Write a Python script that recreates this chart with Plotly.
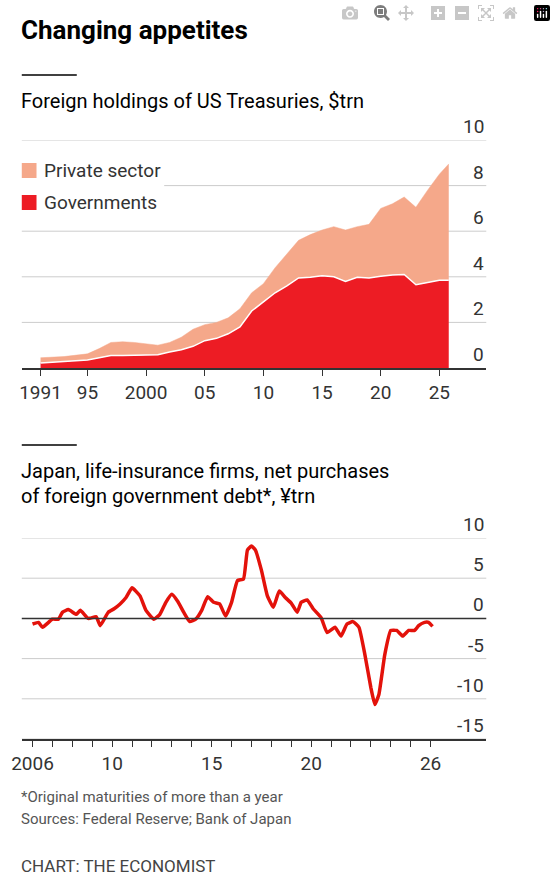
import plotly.graph_objects as go

years_top = [1991,1993,1995,1996,1997,1998,1999,2000,2001,2002,2003,2004,2005,2006,2007,2008,2009,2010,2011,2012,2013,2014,2015,2016,2017,2018,2019,2020,2021,2022,2023,2024,2025,2025.8]
total = [0.45,0.5,0.62,0.85,1.12,1.15,1.12,1.05,1.0,1.12,1.35,1.7,1.9,2.0,2.2,2.6,3.3,3.7,4.4,5.0,5.6,5.85,6.05,6.2,6.05,6.2,6.3,7.0,7.2,7.5,7.05,7.8,8.5,8.95]
govts = [0.22,0.28,0.35,0.45,0.55,0.55,0.55,0.58,0.58,0.7,0.8,0.95,1.2,1.3,1.5,1.8,2.5,2.9,3.3,3.6,3.95,3.98,4.05,4.0,3.8,3.98,3.95,4.02,4.08,4.1,3.65,3.75,3.85,3.85]

t_jp = [2006.0,2006.3,2006.5,2007.0,2007.3,2007.5,2007.8,2008.2,2008.4,2008.8,2009.2,2009.4,2009.8,2010.1,2010.4,2010.7,2011.0,2011.4,2011.7,2012.1,2012.4,2012.7,2013.0,2013.3,2013.6,2013.9,2014.2,2014.5,2014.8,2015.1,2015.4,2015.7,2016.0,2016.3,2016.6,2016.8,2017.0,2017.2,2017.5,2017.8,2018.1,2018.4,2018.7,2019.0,2019.3,2019.5,2019.8,2020.1,2020.5,2020.8,2021.2,2021.5,2021.8,2022.1,2022.4,2022.7,2023.0,2023.2,2023.4,2023.7,2024.0,2024.3,2024.6,2024.9,2025.2,2025.4,2025.7,2025.9,2026.1]
jp = [-0.7,-0.5,-1.1,-0.1,-0.1,0.75,1.1,0.5,1.0,0.0,0.2,-0.9,0.75,1.2,1.8,2.6,3.8,2.8,1.0,-0.1,0.5,2.0,3.0,2.1,0.75,-0.4,-0.1,1.0,2.7,2.0,1.8,0.3,2.0,4.7,4.9,8.5,9.0,8.5,6.0,2.8,1.4,3.4,2.6,1.9,0.75,2.0,2.3,1.2,0.1,-1.75,-1.1,-2.2,-0.7,-0.4,-1.1,-4.5,-8.6,-10.7,-9.5,-4.5,-1.5,-1.5,-2.2,-1.5,-1.5,-0.9,-0.5,-0.5,-1.0]

top_yticks = [0,2,4,6,8,10]
top_xticks = [1991,1995,2000,2005,2010,2015,2020,2025]
top_xlabels = ["1991","95","2000","05","10","15","20","25"]
bot_yticks = [10,5,0,-5,-10,-15]
bot_xlabels = {2006:"2006",2010:"10",2015:"15",2020:"20",2026:"26"}

W, H = 556, 885
def py(p): return 1 - p / H
def px(p): return p / W
XD = [px(12), px(485)]
RED = "#e3120b"
PINK = "#f5a88a"
FONT = "Roboto"
TC = "#333333"
TS = 19

fig = go.Figure()
fig.add_trace(go.Scatter(x=years_top, y=govts, mode="lines", fill="tozeroy", fillcolor="#ed1c24",
                         line=dict(color="white", width=1.5), xaxis="x", yaxis="y", hoverinfo="skip"))
fig.add_trace(go.Scatter(x=years_top, y=total, mode="lines", fill="tonexty", fillcolor=PINK,
                         line=dict(color=PINK, width=0.5), xaxis="x", yaxis="y", hoverinfo="skip"))
fig.add_trace(go.Scatter(x=t_jp, y=jp, mode="lines", line=dict(color=RED, width=3.5, shape="spline", smoothing=0.4),
                         xaxis="x2", yaxis="y2", hoverinfo="skip"))

shapes = []
ann = []
for v in top_yticks:
    if v == 0:
        continue
    x0 = px(157) if v == 8 else XD[0]
    shapes.append(dict(type="line", xref="paper", yref="y", x0=x0, x1=XD[1], y0=v, y1=v,
                       line=dict(color="#cccccc", width=1), layer="below"))
for v in top_yticks:
    ann.append(dict(xref="paper", yref="y", x=XD[1], y=v, text=str(v), showarrow=False,
                    xanchor="right", yanchor="bottom", font=dict(size=TS, color=TC, family=FONT), yshift=0))
for v in bot_yticks:
    if v != 0:
        shapes.append(dict(type="line", xref="paper", yref="y2", x0=XD[0], x1=XD[1], y0=v, y1=v,
                           line=dict(color="#cccccc", width=1), layer="below"))
    ann.append(dict(xref="paper", yref="y2", x=XD[1], y=v, text=str(v), showarrow=False,
                    xanchor="right", yanchor="bottom", font=dict(size=TS, color=TC, family=FONT), yshift=0))
shapes.append(dict(type="line", xref="paper", yref="y2", x0=XD[0], x1=XD[1], y0=0, y1=0,
                   line=dict(color="#333333", width=1.5)))
for yy in [75, 445]:
    shapes.append(dict(type="line", xref="paper", yref="paper", x0=px(12), x1=px(68), y0=py(yy), y1=py(yy),
                       line=dict(color="black", width=1.5)))
for (y0, col, name) in [(163, PINK, "Private sector"), (195, "#ed1c24", "Governments")]:
    shapes.append(dict(type="rect", xref="paper", yref="paper", x0=px(12), x1=px(27), y0=py(y0), y1=py(y0 + 15),
                       fillcolor=col, line=dict(width=0)))
    ann.append(dict(xref="paper", yref="paper", x=px(33), y=py(y0 + 7.5), text=name, showarrow=False,
                    xanchor="left", yanchor="middle", font=dict(size=TS, color=TC, family=FONT)))

def txt(x, y, s, size, color="black", bold=False):
    ann.append(dict(xref="paper", yref="paper", x=px(x), y=py(y), text=("<b>%s</b>" % s) if bold else s,
                    showarrow=False, xanchor="left", yanchor="middle", font=dict(size=size, color=color, family=FONT)))
txt(9, 30, "Changing appetites", 26, bold=True)
txt(9, 101, "Foreign holdings of US Treasuries, $trn", 20)
txt(9, 471, "Japan, life-insurance firms, net purchases", 20)
txt(9, 496, "of foreign government debt*, ¥trn", 20)
txt(9, 797, "*Original maturities of more than a year", 15, "#555555")
txt(9, 819, "Sources: Federal Reserve; Bank of Japan", 15, "#555555")
txt(9, 866, "CHART: THE ECONOMIST", 17, "#444444")

bot_ticks = list(range(2006, 2027))
fig.update_layout(
    width=W, height=H, margin=dict(l=0, r=0, t=0, b=0), showlegend=False,
    paper_bgcolor="white", plot_bgcolor="white", font=dict(family=FONT, size=TS, color=TC),
    xaxis=dict(domain=XD, anchor="y", range=[1989.4, 2029.0], tickvals=top_xticks, ticktext=top_xlabels,
               ticks="outside", ticklen=6, tickcolor="#333", showline=True, linecolor="#333", linewidth=1.5,
               showgrid=False, zeroline=False, tickfont=dict(size=TS, color=TC)),
    yaxis=dict(domain=[py(368), py(140)], anchor="x", range=[0, 10], showticklabels=False, showgrid=False,
               zeroline=False),
    xaxis2=dict(domain=XD, anchor="y2", range=[2005.46, 2028.8], tickvals=bot_ticks,
                ticktext=[bot_xlabels.get(t, "") for t in bot_ticks],
                ticks="outside", ticklen=6, tickcolor="#333", showline=True, linecolor="#333", linewidth=1.5,
                showgrid=False, zeroline=False, tickfont=dict(size=TS, color=TC)),
    yaxis2=dict(domain=[py(739), py(538)], anchor="x2", range=[-15, 10], showticklabels=False, showgrid=False,
                zeroline=False),
    shapes=shapes, annotations=ann,
)
fig.write_html("out.html")
with open("out.html", encoding="utf-8") as f:
    html = f.read()
html = html.replace("<head>", "<head><style>html,body{margin:0;padding:0;overflow:hidden;}</style>", 1)
with open("out.html", "w", encoding="utf-8") as f:
    f.write(html)
